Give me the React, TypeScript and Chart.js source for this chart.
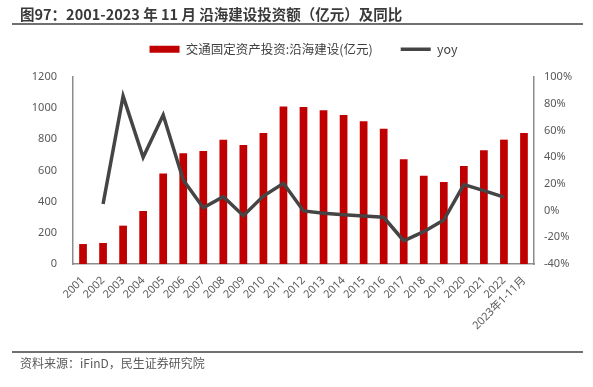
import React, { useEffect, useRef } from "react";
import { Chart, registerables } from "chart.js";

Chart.register(...registerables);

const categories = [
  "2001", "2002", "2003", "2004", "2005", "2006", "2007", "2008", "2009", "2010",
  "2011", "2012", "2013", "2014", "2015", "2016", "2017", "2018", "2019", "2020",
  "2021", "2022", "2023年1-11月",
];
const investment = [
  128, 135, 246, 340, 580, 710, 725, 798, 764, 841,
  1010, 1008, 986, 956, 916, 868, 672, 567, 526, 629,
  730, 798, 841,
];
const yoy = [
  null, 4.9, 85.7, 39.9, 71.5, 22.9, 2.1, 10.4, -3.8, 10.9,
  20.4, -0.3, -2.0, -3.1, -4.1, -5.0, -22.6, -15.8, -7.1, 19.4,
  14.9, 10.1, null,
];
const barLabel = "交通固定资产投资:沿海建设(亿元)";
const lineLabel = "yoy";
const titleText = "图97：2001-2023 年 11 月 沿海建设投资额（亿元）及同比";
const sourceText = "资料来源：iFinD，民生证券研究院";

const W = 593;
const H = 387;
const PLOT_LEFT = 73;
const PLOT_RIGHT = 534;
const PLOT_TOP = 77;
const PLOT_BOTTOM = 264;
const PAD_LEFT = 14;
const PAD_TOP = 15;

const tickFont = { family: "'Noto Sans', 'Noto Sans CJK SC', sans-serif", size: 11 };

export default function App() {
  const ref = useRef<HTMLCanvasElement | null>(null);

  useEffect(() => {
    if (!ref.current) return;
    const legendSpacer = {
      id: "legendSpacer",
      afterInit(chart: any) {
        const lg = chart.legend;
        if (lg && !lg.__patched) {
          const orig = lg.fit;
          lg.fit = function () {
            orig.call(this);
            this.height = PLOT_TOP - PAD_TOP;
          };
          lg.__patched = true;
        }
      },
    };
    const chart = new Chart(ref.current, {
      type: "bar",
      data: {
        labels: categories,
        datasets: [
          {
            type: "line",
            label: lineLabel,
            data: yoy,
            yAxisID: "y1",
            borderColor: "#454545",
            backgroundColor: "#454545",
            borderWidth: 3.5,
            pointRadius: 0,
            pointStyle: "line",
            tension: 0,
          } as any,
          {
            type: "bar",
            label: barLabel,
            data: investment,
            yAxisID: "y",
            backgroundColor: "#c00000",
            borderWidth: 0,
            pointStyle: "rect",
            categoryPercentage: 1,
            barPercentage: 0.385,
          } as any,
        ],
      },
      options: {
        responsive: false,
        animation: false,
        layout: { padding: { left: PAD_LEFT, right: 0, top: PAD_TOP, bottom: 0 } },
        plugins: {
          tooltip: { enabled: false },
          legend: {
            position: "top",
            labels: {
              usePointStyle: true,
              pointStyleWidth: 30,
              boxHeight: 7,
              padding: 28,
              color: "#404040",
              font: { family: "'Noto Sans CJK SC', sans-serif", size: 12.5 },
              sort: (a: any, b: any) => b.datasetIndex - a.datasetIndex,
            },
          },
        },
        scales: {
          x: {
            grid: { display: false },
            border: { display: true, color: "#8c8c8c", width: 1.5 },
            ticks: {
              color: "#595959",
              font: tickFont,
              minRotation: 45,
              maxRotation: 45,
              autoSkip: false,
              padding: 2,
            },
            afterFit: (s: any) => {
              s.height = H - PLOT_BOTTOM;
            },
          },
          y: {
            position: "left",
            min: 0,
            max: 1200,
            grid: { display: false, drawTicks: false },
            border: { display: true, color: "#8c8c8c", width: 1.5 },
            ticks: {
              stepSize: 200,
              color: "#595959",
              font: tickFont,
              padding: 16,
              callback: (v: any) => String(v),
            },
            afterFit: (s: any) => {
              s.width = PLOT_LEFT - PAD_LEFT;
            },
          },
          y1: {
            position: "right",
            min: -40,
            max: 100,
            grid: { display: false, drawTicks: false },
            border: { display: true, color: "#8c8c8c", width: 1.5 },
            ticks: {
              stepSize: 20,
              color: "#595959",
              font: tickFont,
              padding: 10,
              callback: (v: any) => `${v}%`,
            },
            afterFit: (s: any) => {
              s.width = W - PLOT_RIGHT;
            },
          },
        },
      },
      plugins: [legendSpacer],
    });
    return () => chart.destroy();
  }, []);

  return (
    <div style={{ position: "absolute", left: 0, top: 0, width: W, height: H, background: "#fff", overflow: "hidden" }}>
      <canvas ref={ref} width={W} height={H} style={{ position: "absolute", left: 0, top: 0, width: W, height: H }} />
      <div
        style={{
          position: "absolute",
          left: 20,
          top: 4,
          fontFamily: "'Noto Sans CJK SC', sans-serif",
          fontWeight: 700,
          fontSize: 14.5,
          lineHeight: "19px",
          color: "#3a3a3a",
          whiteSpace: "nowrap",
        }}
      >
        {titleText}
      </div>
      <div style={{ position: "absolute", left: 12, top: 23, width: 571, height: 2, background: "#707070" }} />
      <div style={{ position: "absolute", left: 12, top: 351, width: 571, height: 2, background: "#707070" }} />
      <div
        style={{
          position: "absolute",
          left: 20,
          top: 355,
          fontFamily: "'Noto Sans CJK SC', sans-serif",
          fontSize: 12,
          lineHeight: "16px",
          color: "#595959",
          whiteSpace: "nowrap",
        }}
      >
        {sourceText}
      </div>
    </div>
  );
}
